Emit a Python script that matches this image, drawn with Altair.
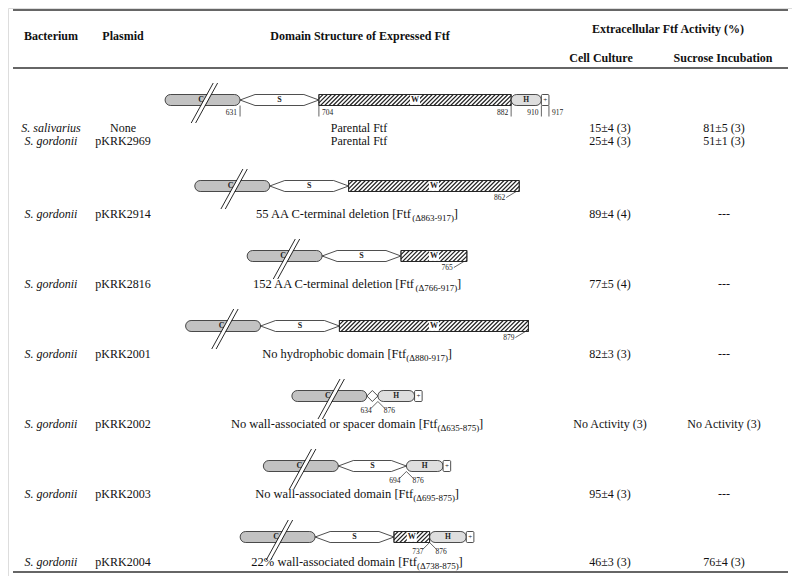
import altair as alt
import pandas as pd

# ---------------- table values ----------------
bacteria = ["S. salivarius", "S. gordonii", "S. gordonii", "S. gordonii",
            "S. gordonii", "S. gordonii", "S. gordonii", "S. gordonii"]
plasmids = ["None", "pKRK2969", "pKRK2914", "pKRK2816", "pKRK2001",
            "pKRK2002", "pKRK2003", "pKRK2004"]
descriptions = ["Parental Ftf", "Parental Ftf", "55 AA C-terminal deletion",
                "152 AA C-terminal deletion", "No hydrophobic domain",
                "No wall-associated or spacer domain", "No wall-associated domain",
                "22% wall-associated domain"]
deletions = ["", "", "Δ863-917", "Δ766-917", "Δ880-917", "Δ635-875", "Δ695-875", "Δ738-875"]
cell_culture = ["15±4 (3)", "25±4 (3)", "89±4 (4)", "77±5 (4)", "82±3 (3)",
                "No Activity (3)", "95±4 (3)", "46±3 (3)"]
sucrose = ["81±5 (3)", "51±1 (3)", "---", "---", "---", "No Activity (3)", "---", "76±4 (3)"]

headers = ["Bacterium", "Plasmid", "Domain Structure of Expressed Ftf",
           "Extracellular Ftf Activity (%)", "Cell Culture", "Sucrose Incubation"]

# ---------------- domain structures (residue numbers) ----------------
diagram_rows = [0, 2, 3, 4, 5, 6, 7]
domain_names = [["S", "W", "H", "+"], ["S", "W"], ["S", "W"], ["S", "W"],
                ["S", "H", "+"], ["S", "H", "+"], ["S", "W", "H", "+"]]
domain_starts = [[631, 704, 882, 910], [631, 704], [631, 704], [631, 704],
                 [631, 876, 910], [631, 876, 910], [631, 704, 876, 910]]
domain_ends = [[704, 882, 910, 917], [704, 862], [704, 765], [704, 879],
               [634, 910, 917], [694, 910, 917], [704, 737, 910, 917]]
full_length = 917

# ---------------- layout ----------------
FONT = "Liberation Serif"
xs = alt.Scale(domain=[8, 792], nice=False, zero=False)
ys = alt.Scale(domain=[8, 576], nice=False, zero=False, reverse=True)

TEXT_Y = [128, 141] + [214 + 70 * i for i in range(5)] + [562]
DIAG_Y = {0: 100}
for r in diagram_rows[1:]:
    DIAG_Y[r] = TEXT_Y[r] - 28
DIAG_Y[7] = TEXT_Y[7] - 25

COL_BACT, COL_PLAS, COL_CAP, COL_CELL, COL_SUC = 51, 123, 357, 610, 724
K = 1.08          # px per residue
C_W = 75          # truncated catalytic domain
H2 = 5.5          # half bar height
FS = 12

TIMES = {' ': 250, '[': 333, ']': 333, '(': 333, ')': 333, '-': 333, '%': 833, 'Δ': 612}
for ch in "0123456789":
    TIMES[ch] = 500
TIMES.update(dict(zip("ABCDEFGHIJKLMNOPQRSTUVWXYZ",
                      [722, 667, 667, 722, 611, 556, 722, 722, 333, 389, 722, 611, 889, 722, 722,
                       556, 722, 667, 556, 611, 722, 722, 944, 722, 722, 611])))
TIMES.update(dict(zip("abcdefghijklmnopqrstuvwxyz",
                      [444, 500, 444, 500, 444, 333, 500, 500, 278, 278, 500, 278, 778, 500, 500,
                       500, 500, 333, 389, 278, 500, 500, 722, 500, 500, 444])))


def tw(s, size):
    return sum(TIMES.get(c, 500) for c in s) * size / 1000.0


X = lambda f="x": alt.X(f + ":Q", scale=xs, axis=None)
Y = lambda f="y": alt.Y(f + ":Q", scale=ys, axis=None)


def texts(rows, **mk):
    df = pd.DataFrame(rows, columns=["x", "y", "text"])
    mk.setdefault("font", FONT)
    mk.setdefault("baseline", "middle")
    return alt.Chart(df).mark_text(**mk).encode(x=X(), y=Y(), text="text:N")


def segs(rows, **mk):
    df = pd.DataFrame(rows, columns=["x", "y", "x2", "y2"])
    return alt.Chart(df).mark_rule(**mk).encode(x=X(), y=Y(), x2="x2:Q", y2="y2:Q")


def rects(rows, **mk):
    df = pd.DataFrame(rows, columns=["x", "y", "x2", "y2"])
    return alt.Chart(df).mark_rect(**mk).encode(x=X(), y=Y(), x2="x2:Q", y2="y2:Q")


# ---------------- build diagrams ----------------
c_rects, c_letters, break_w, break_b = [], [], [], []
hex_pts, s_letters = [], []
w_rects, hatch, w_boxes, w_letters = [], [], [], []
h_rects, h_letters, p_rects, p_letters = [], [], [], []
tick_lines, lab_left, lab_right = [], [], []

for d, r in enumerate(diagram_rows):
    yc = DIAG_Y[r]
    yt, yb = yc - H2, yc + H2
    names, starts, ends = domain_names[d], domain_starts[d], domain_ends[d]
    widths = [max(K * (e - s), 11 if n == "S" else 0) for n, s, e in zip(names, starts, ends)]
    total = C_W + sum(widths)
    x0 = COL_CAP - total / 2
    c_rects.append((x0, yt, x0 + C_W, yb))
    bx = x0 + 41
    c_letters.append((bx - 5, yc, "C"))
    break_w.append((bx - 23 * 0.55, yc + 23, bx + 17 * 0.55, yc - 17))
    for off in (-2.2, 2.2):
        break_b.append((bx + off - 23 * 0.55, yc + 23, bx + off + 17 * 0.55, yc - 17))
    x = x0 + C_W
    bounds = []
    for n, w in zip(names, widths):
        a, b = x, x + w
        if n == "S":
            t = min(15, w / 2)
            pts = [(a, yc), (a + t, yt), (b - t, yt), (b, yc), (b - t, yb), (a + t, yb), (a, yc)]
            for i, (px, py) in enumerate(pts):
                hex_pts.append((px, py, f"s{d}", i))
            if w > 20:
                s_letters.append(((a + b) / 2, yc, "S"))
        elif n == "W":
            w_rects.append((a, yt, b, yb))
            h = 2 * H2
            s = a - h
            while s < b:
                sx, sy = s, yb
                ex, ey = s + h, yt
                if sx < a:
                    sy = yb - (a - sx)
                    sx = a
                if ex > b:
                    ey = yt + (ex - b)
                    ex = b
                if ex > sx:
                    hatch.append((sx, sy, ex, ey))
                s += 4.2
            cx = (a + b) / 2
            w_boxes.append((cx - 5, yt + 0.6, cx + 5, yb - 0.6))
            w_letters.append((cx, yc, "W"))
        elif n == "H":
            h_rects.append((a, yt, b, yb))
            h_letters.append(((a + b) / 2, yc, "H"))
        else:
            p_rects.append((a, yt, b, yb))
            p_letters.append(((a + b) / 2, yc, "+"))
        bounds.append((a, b))
        x = b

    gaps = [i for i in range(len(names) - 1) if ends[i] != starts[i + 1]]
    if not gaps and ends[-1] == full_length:
        tick_x = [bounds[0][0]] + [bb[1] for bb in bounds]
        tick_v = [starts[0]] + ends
        sides = ["L", "R", "L", "L", "R"]
        for tx, tv, sd in zip(tick_x, tick_v, sides):
            tick_lines.append((tx, yb, tx, yb + 11))
            if sd == "L":
                lab_left.append((tx - 3, yb + 7, str(tv)))
            else:
                lab_right.append((tx + 3, yb + 7, str(tv)))
    for i in gaps:
        xj = bounds[i][1]
        tick_lines.append((xj, yb, xj - 7, yb + 7))
        tick_lines.append((xj, yb, xj + 7, yb + 7))
        lab_left.append((xj - 6, yb + 9, str(ends[i])))
        lab_right.append((xj + 6, yb + 9, str(starts[i + 1])))
    if ends[-1] != full_length:
        xe = bounds[-1][1]
        tick_lines.append((xe - 3, yb, xe - 13, yb + 6))
        lab_left.append((xe - 14, yb + 6, str(ends[-1])))

# ---------------- captions ----------------
cap_center, cap_main, cap_sub = [], [], []
for r in range(len(descriptions)):
    y = TEXT_Y[r]
    if not deletions[r]:
        cap_center.append((COL_CAP + 2, y, descriptions[r]))
    else:
        m = descriptions[r] + " [Ftf"
        sb = "(" + deletions[r] + ")"
        wm, ws, wc = tw(m, 12.5), tw(sb, 9), tw("]", 12.5)
        left = COL_CAP - (wm + ws + wc) / 2
        cap_main.append((left, y, m))
        cap_sub.append((left + wm, y + 4, sb))
        cap_main.append((left + wm + ws, y, "]"))

# ---------------- layers ----------------
INK = "#111111"
LINE = "#222222"
layers = [
    segs([(13, 10, 788, 10), (13, 68, 788, 68), (13, 572, 788, 572)], color="#333333", strokeWidth=1.6),
    texts([(COL_BACT, 36, headers[0]), (COL_PLAS, 36, headers[1]), (360, 36, headers[2]),
           (668, 29, headers[3]), (601, 58, headers[4]), (723, 58, headers[5])],
          fontSize=12, fontWeight="bold", align="center", color=INK),
    texts([(COL_BACT, TEXT_Y[i], b) for i, b in enumerate(bacteria)],
          fontSize=FS, fontStyle="italic", align="center", color=INK),
    texts([(COL_PLAS, TEXT_Y[i], p) for i, p in enumerate(plasmids)],
          fontSize=FS, align="center", color=INK),
    texts([(COL_CELL, TEXT_Y[i], v) for i, v in enumerate(cell_culture)],
          fontSize=FS, align="center", color=INK),
    texts([(COL_SUC, TEXT_Y[i], v) for i, v in enumerate(sucrose)],
          fontSize=FS, align="center", color=INK),
    texts(cap_center, fontSize=FS, align="center", color=INK),
    texts(cap_main, fontSize=12.5, align="left", color=INK),
    texts(cap_sub, fontSize=9, align="left", color=INK),
    # catalytic domain
    rects(c_rects, fill="#c2c2c2", stroke=LINE, strokeWidth=0.8, cornerRadius=H2),
    texts(c_letters, fontSize=8, fontWeight="bold", align="center", color=LINE),
    segs(break_w, color="white", strokeWidth=3.4),
    segs(break_b, color=INK, strokeWidth=0.9),
    # spacer
    alt.Chart(pd.DataFrame(hex_pts, columns=["x", "y", "id", "ord"])).mark_line(
        color=LINE, strokeWidth=0.8).encode(x=X(), y=Y(), detail="id:N", order="ord:Q"),
    texts(s_letters, fontSize=8, fontWeight="bold", align="center", color=LINE),
    # wall-associated
    rects(w_rects, fill="white", stroke=LINE, strokeWidth=0.8),
    segs(hatch, color=LINE, strokeWidth=1.1),
    rects(w_boxes, fill="white"),
    texts(w_letters, fontSize=8, fontWeight="bold", align="center", color=LINE),
    rects(w_rects, fillOpacity=0, stroke=LINE, strokeWidth=0.9),
    # hydrophobic and charged tail
    rects(h_rects, fill="#dedede", stroke=LINE, strokeWidth=0.8, cornerRadius=H2),
    texts(h_letters, fontSize=7.5, fontWeight="bold", align="center", color=LINE),
    rects(p_rects, fill="white", stroke=LINE, strokeWidth=0.8, cornerRadius=1),
    texts(p_letters, fontSize=7, align="center", color=LINE),
    # residue labels
    segs(tick_lines, color=LINE, strokeWidth=0.7),
    texts(lab_left, fontSize=7.5, align="right", color=LINE),
    texts(lab_right, fontSize=7.5, align="left", color=LINE),
]

chart = alt.layer(*layers).properties(
    width=784, height=568, padding=0, autosize="none"
).configure_view(stroke=None).configure(background="white")

chart.save("out.html", embed_options={"renderer": "svg", "actions": False})
